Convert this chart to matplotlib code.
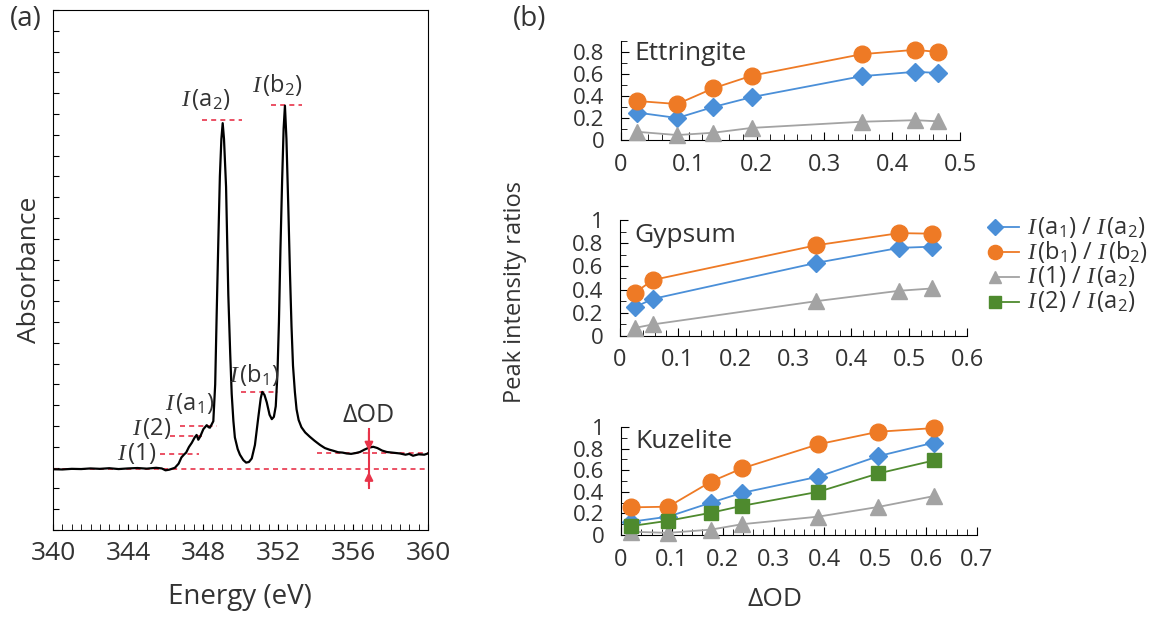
import matplotlib
matplotlib.use("Agg")
import matplotlib.pyplot as plt
from matplotlib.ticker import MultipleLocator
from matplotlib.lines import Line2D

plt.rcParams['font.family'] = ['Open Sans', 'DejaVu Sans']
plt.rcParams['mathtext.fontset'] = 'custom'
plt.rcParams['mathtext.it'] = 'Liberation Serif:italic'
plt.rcParams['mathtext.rm'] = 'Open Sans'

# --- (a) spectrum ---
energy = [340.0, 340.5, 341.0, 341.5, 342.0, 342.5, 343.0, 343.5, 344.0, 344.5,
          345.0, 345.5, 345.8, 346.0, 346.2, 346.5, 346.7, 346.85, 347.0, 347.1,
          347.25, 347.4, 347.55, 347.66, 347.75, 347.85, 348.02, 348.2, 348.3, 348.37,
          348.47, 348.55, 348.65, 348.73, 348.82, 348.9, 348.98, 349.05, 349.12, 349.23,
          349.35, 349.45, 349.53, 349.62, 349.7, 349.85, 349.97, 350.15, 350.3, 350.45,
          350.6, 350.77, 350.95, 351.08, 351.16, 351.28, 351.4, 351.55, 351.67, 351.78,
          351.88, 351.97, 352.05, 352.13, 352.22, 352.3, 352.37, 352.45, 352.55, 352.64,
          352.72, 352.8, 352.9, 352.99, 353.1, 353.25, 353.45, 353.7, 353.95, 354.24,
          354.5, 354.75, 354.95, 355.2, 355.45, 355.66, 355.9, 356.15, 356.37, 356.6,
          356.85, 357.08, 357.3, 357.55, 357.8, 358.1, 358.5, 358.8, 359.0, 359.2,
          359.5, 359.8, 360.0]
absorb = [2.92, 2.91, 2.94, 2.93, 2.96, 2.94, 2.97, 2.93, 2.96, 2.98,
          2.95, 2.99, 2.96, 2.87, 2.90, 2.99, 3.19, 3.49, 3.64, 3.72,
          3.99, 4.19, 4.44, 4.57, 4.34, 4.49, 4.85, 5.04, 4.94, 4.92,
          5.09, 5.23, 7.0, 10.4, 14.0, 17.0, 18.8, 19.56, 18.8, 16.5,
          11.3, 8.5, 6.55, 5.25, 4.45, 3.89, 3.62, 3.36, 3.24, 3.27,
          3.44, 4.09, 5.42, 6.34, 6.64, 6.49, 6.14, 5.54, 5.33, 5.44,
          5.95, 7.5, 10.0, 13.5, 16.8, 19.3, 20.40, 18.8, 15.5, 12.3,
          9.8, 7.9, 6.64, 5.80, 5.29, 4.94, 4.69, 4.48, 4.29, 4.09,
          3.94, 3.86, 3.81, 3.74, 3.72, 3.68, 3.66, 3.70, 3.75, 3.86,
          3.96, 4.00, 3.94, 3.82, 3.75, 3.72, 3.68, 3.62, 3.66, 3.57,
          3.64, 3.62, 3.68]

# peak markers: label, dashed line start, end, level, label x, label y
peak_names = ['$I\\,$(1)', '$I\\,$(2)', '$I\\,$(a$_1$)', '$I\\,$(a$_2$)', '$I\\,$(b$_1$)', '$I\\,$(b$_2$)']
peak_x0 = [345.68, 346.24, 346.77, 347.93, 350.0, 351.6]
peak_x1 = [347.8, 347.93, 348.73, 350.06, 352.0, 353.3]
peak_lev = [3.66, 4.5, 5.02, 19.69, 6.65, 20.44]
peak_tx = [344.45, 345.25, 347.29, 348.13, 350.71, 351.96]
peak_ty = [3.7, 4.9, 6.1, 20.69, 7.45, 21.39]
base_lev = 2.93
post_lev = 3.68
post_x0 = 354.06
dod_x = 356.85

# --- (b) peak intensity ratios ---
ett_x = [0.023, 0.083, 0.136, 0.193, 0.355, 0.434, 0.467]
ett_a = [0.25, 0.20, 0.30, 0.39, 0.58, 0.62, 0.61]
ett_b = [0.355, 0.327, 0.47, 0.585, 0.78, 0.82, 0.80]
ett_1 = [0.075, 0.045, 0.066, 0.11, 0.166, 0.18, 0.17]

gyp_x = [0.026, 0.057, 0.339, 0.483, 0.54]
gyp_a = [0.25, 0.32, 0.63, 0.76, 0.77]
gyp_b = [0.374, 0.483, 0.782, 0.887, 0.882]
gyp_1 = [0.07, 0.10, 0.30, 0.39, 0.41]

kuz_x = [0.02, 0.093, 0.177, 0.238, 0.388, 0.506, 0.615]
kuz_a = [0.123, 0.17, 0.30, 0.39, 0.54, 0.73, 0.855]
kuz_b = [0.256, 0.262, 0.494, 0.617, 0.84, 0.956, 0.99]
kuz_1 = [0.03, 0.02, 0.05, 0.10, 0.17, 0.26, 0.36]
kuz_2 = [0.083, 0.132, 0.206, 0.27, 0.40, 0.57, 0.69]

ratio_labels = ['$I\\,$(a$_1$) / $I\\,$(a$_2$)', '$I\\,$(b$_1$) / $I\\,$(b$_2$)',
                '$I\\,$(1) / $I\\,$(a$_2$)', '$I\\,$(2) / $I\\,$(a$_2$)']

txt = '#333333'
red = '#e8344a'
styles = [dict(color='#4a8fd8', marker='D', ms=9),
          dict(color='#ee7a25', marker='o', ms=12),
          dict(color='#a3a3a3', marker='^', ms=11),
          dict(color='#4e8a2e', marker='s', ms=10)]

W, H = 1158, 619
fig = plt.figure(figsize=(W / 100, H / 100), dpi=100)


def box(l, t, r, b):
    return [l / W, 1 - b / H, (r - l) / W, (b - t) / H]


def fx(px):
    return px / W


def fy(py):
    return 1 - py / H


# ---------- (a) ----------
ax = fig.add_axes(box(53, 10, 428, 530))
ax.plot(energy, absorb, color='black', lw=1.6, zorder=3)
dash = dict(color=red, lw=1.2, dashes=(3, 2.5), zorder=2)
ax.plot([340, 360], [base_lev, base_lev], **dash)
ax.plot([post_x0, 360], [post_lev, post_lev], **dash)
for i in range(len(peak_names)):
    ax.plot([peak_x0[i], peak_x1[i]], [peak_lev[i], peak_lev[i]], **dash)
    ax.text(peak_tx[i], peak_ty[i], peak_names[i], fontsize=17, color=txt,
            ha='center', va='center')
ax.plot([dod_x, dod_x], [2.0, 4.85], color=red, lw=1.5, zorder=4)
ax.annotate('', xy=(dod_x, post_lev), xytext=(dod_x, 4.85),
            arrowprops=dict(arrowstyle='-|>', color=red, lw=1.5, mutation_scale=12))
ax.annotate('', xy=(dod_x, base_lev), xytext=(dod_x, 2.0),
            arrowprops=dict(arrowstyle='-|>', color=red, lw=1.5, mutation_scale=12))
ax.text(dod_x, 5.5, '\u0394OD', fontsize=18, color=txt, ha='center', va='center')

ax.set_xlim(340, 360)
ax.set_ylim(0, 25)
ax.xaxis.set_major_locator(MultipleLocator(4))
ax.xaxis.set_minor_locator(MultipleLocator(0.5))
ax.yaxis.set_major_locator(MultipleLocator(1))
ax.set_yticklabels([])
ax.tick_params(which='both', direction='in', top=False, right=False, length=4,
               labelsize=19, labelcolor=txt, pad=8)
fig.text(fx(240), fy(597), 'Energy (eV)', fontsize=20, color=txt, ha='center', va='center')
fig.text(fx(30), fy(270), 'Absorbance', fontsize=19, color=txt, rotation=90,
         ha='center', va='center')
fig.text(fx(26), fy(19), '(a)', fontsize=20, color=txt, ha='center', va='center')

# ---------- (b) ----------
panels = [
    ('Ettringite', box(621, 41, 960, 140), 0.9, 0.5, ett_x, [ett_a, ett_b, ett_1]),
    ('Gypsum', box(620, 220, 967, 336), 1.0, 0.6, gyp_x, [gyp_a, gyp_b, gyp_1]),
    ('Kuzelite', box(621, 427, 977, 535), 1.0, 0.7, kuz_x, [kuz_a, kuz_b, kuz_1, kuz_2]),
]
for name, rect, ytop, xright, xs, series in panels:
    a = fig.add_axes(rect)
    for k, ys in enumerate(series):
        st = styles[k]
        a.plot(xs, ys, color=st['color'], lw=1.3, marker=st['marker'], ms=st['ms'],
               mec=st['color'], mfc=st['color'], clip_on=False, zorder=3 + k)
    a.set_xlim(0, xright)
    a.set_ylim(0, ytop)
    a.spines['top'].set_visible(False)
    a.spines['right'].set_visible(False)
    a.xaxis.set_major_locator(MultipleLocator(0.1))
    a.xaxis.set_minor_locator(MultipleLocator(0.02))
    a.yaxis.set_major_locator(MultipleLocator(0.2))
    a.yaxis.set_minor_locator(MultipleLocator(0.1))
    a.xaxis.set_major_formatter(lambda v, p: '0' if abs(v) < 1e-9 else ('%g' % round(v, 2)))
    a.yaxis.set_major_formatter(lambda v, p: '0' if abs(v) < 1e-9 else ('%g' % round(v, 2)))
    a.tick_params(which='major', direction='in', length=6, labelcolor=txt)
    a.tick_params(which='minor', direction='in', length=4)
    a.tick_params(axis='x', pad=9, labelsize=17)
    a.tick_params(axis='y', pad=12, labelsize=16)
    a.text(0.04, 0.87, name, transform=a.transAxes, fontsize=19, color=txt,
           ha='left', va='center')

fig.text(fx(515), fy(292), 'Peak intensity ratios', fontsize=17, color=txt,
         rotation=90, ha='center', va='center')
fig.text(fx(775), fy(600), '\u0394OD', fontsize=19, color=txt, ha='center', va='center')
fig.text(fx(530), fy(19), '(b)', fontsize=20, color=txt, ha='center', va='center')

# legend drawn by hand so the rows sit where the reference has them
leg_y = [227, 252, 277, 302]
for i in range(len(ratio_labels)):
    st = styles[i]
    fig.add_artist(Line2D([fx(995), fx(1019)], [fy(leg_y[i]), fy(leg_y[i])],
                          color=st['color'], lw=1.3, marker=st['marker'],
                          ms=st['ms'] * 0.85, markevery=[0], transform=fig.transFigure))
    fig.text(fx(1027), fy(leg_y[i]), ratio_labels[i], fontsize=17, color=txt,
             ha='left', va='center')

fig.savefig('out.png', dpi=100)
